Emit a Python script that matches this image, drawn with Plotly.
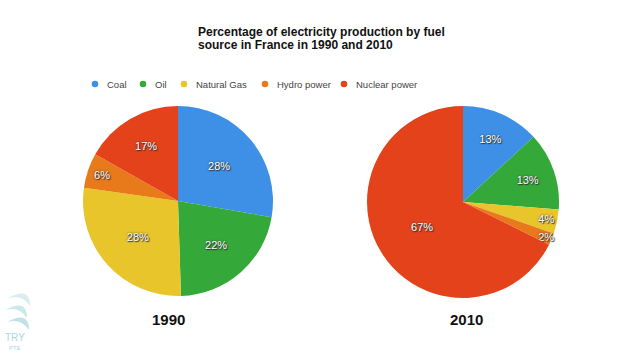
import plotly.graph_objects as go

fuels = ["Coal", "Oil", "Natural Gas", "Hydro power", "Nuclear power"]
share_1990 = [28, 22, 28, 6, 17]
share_2010 = [13, 13, 4, 2, 67]
years = ["1990", "2010"]
colors = ["#3d90e6", "#35a83a", "#e8c52a", "#e87a1c", "#e4421a"]
title_lines = ["Percentage of electricity production by fuel",
               "source in France in 1990 and 2010"]

W, H = 621, 356

def px_x(x):
    return x / W

def px_y(y):
    return 1 - y / H

fig = go.Figure()

pie_geo = [(178, 201, 95), (463, 202, 96)]
for vals, (cx, cy, r) in zip([share_1990, share_2010], pie_geo):
    fig.add_trace(go.Pie(
        labels=fuels, values=vals, sort=False, direction="clockwise", rotation=0,
        marker=dict(colors=colors, line=dict(width=0)),
        texttemplate="%{value}%", textposition="inside",
        insidetextorientation="horizontal",
        textfont=dict(family="Liberation Sans, Arial, sans-serif", size=11, color="white",
                      shadow="0px 0px 2px #333, 1px 1px 1px #333"),
        hoverinfo="label+value", showlegend=False,
        domain=dict(x=[px_x(cx - r), px_x(cx + r)], y=[px_y(cy + r), px_y(cy - r)]),
    ))

ann = []
for line, y in zip(title_lines, [32, 45]):
    ann.append(dict(text="<b>" + line + "</b>", x=px_x(196), y=px_y(y), xref="paper", yref="paper",
                    xanchor="left", yanchor="middle", showarrow=False,
                    font=dict(family="Liberation Sans, Arial, sans-serif", size=12, color="#111")))

legend_dot_x = [95, 143, 184, 265, 344]
shapes = []
for name, c, dx in zip(fuels, colors, legend_dot_x):
    shapes.append(dict(type="circle", xref="paper", yref="paper",
                       x0=px_x(dx - 3.3), x1=px_x(dx + 3.3), y0=px_y(84 + 3.3), y1=px_y(84 - 3.3),
                       fillcolor=c, line=dict(width=0)))
    ann.append(dict(text=name, x=px_x(dx + 10), y=px_y(84), xref="paper", yref="paper",
                    xanchor="left", yanchor="middle", showarrow=False,
                    font=dict(family="Liberation Sans, Arial, sans-serif", size=9.5, color="#444")))

for yr, cx in zip(years, [168, 466]):
    ann.append(dict(text="<b>" + yr + "</b>", x=px_x(cx), y=px_y(319), xref="paper", yref="paper",
                    xanchor="center", yanchor="middle", showarrow=False,
                    font=dict(family="Liberation Sans, Arial, sans-serif", size=15, color="#111")))

# watermark
ann.append(dict(text="TRY", x=px_x(15), y=px_y(337), xref="paper", yref="paper",
                xanchor="center", yanchor="middle", showarrow=False,
                font=dict(family="Liberation Sans, Arial, sans-serif", size=10, color="#a9d8dc")))
ann.append(dict(text="PTE", x=px_x(15), y=px_y(348), xref="paper", yref="paper",
                xanchor="center", yanchor="middle", showarrow=False,
                font=dict(family="Liberation Sans, Arial, sans-serif", size=6, color="#a9d8dc")))
for (ax, ay), op in zip([(8, 288), (5, 300), (7, 312)], [0.45, 0.6, 0.75]):
    shapes.append(dict(type="path", xref="paper", yref="paper",
                       path="M {} {} Q {} {} {} {} Q {} {} {} {} Z".format(
                           px_x(ax), px_y(ay + 10), px_x(ax + 22), px_y(ay - 2), px_x(ax + 22), px_y(ay + 18),
                           px_x(ax + 14), px_y(ay + 6), px_x(ax), px_y(ay + 10)),
                       fillcolor="#a9d8dc", opacity=op, line=dict(width=0)))

fig.update_layout(
    width=W, height=H, margin=dict(l=0, r=0, t=0, b=0),
    paper_bgcolor="white", plot_bgcolor="white",
    annotations=ann, shapes=shapes,
    uniformtext=dict(minsize=11, mode="show"),
)

fig.write_html("out.html", config={"displayModeBar": False},
               post_script="document.body.style.margin='0';document.body.style.overflow='hidden';")
